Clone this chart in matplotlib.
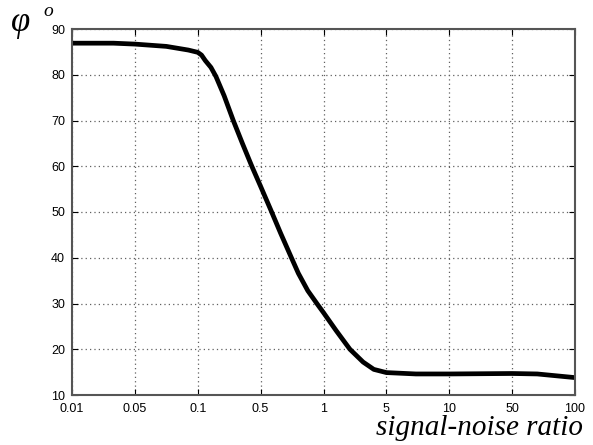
import matplotlib
matplotlib.use("Agg")
import matplotlib.pyplot as plt

# Category tick labels (equally spaced on the axis)
tick_labels = ["0.01", "0.05", "0.1", "0.5", "1", "5", "10", "50", "100"]
y_ticks = [10, 20, 30, 40, 50, 60, 70, 80, 90]

# Curve: position in category units, phi in degrees
curve_pos = [0.0, 0.66, 1.0, 1.5, 1.85, 2.0, 2.06, 2.12, 2.21, 2.29, 2.42,
             2.565, 2.71, 2.86, 3.0, 3.16, 3.32, 3.49, 3.6, 3.75, 3.91, 4.0,
             4.2, 4.42, 4.63, 4.8, 5.0, 5.47, 6.0, 7.0, 7.4, 8.0]
curve_phi = [86.9, 86.9, 86.7, 86.2, 85.4, 84.9, 84.3, 83.1, 81.6, 79.6, 75.4,
             70.0, 65.0, 60.0, 55.6, 50.5, 45.3, 40.0, 36.6, 32.8, 29.7, 28.0,
             24.1, 20.0, 17.2, 15.6, 14.9, 14.6, 14.6, 14.7, 14.6, 13.8]

fig = plt.figure(figsize=(5.93, 4.45), dpi=100)
ax = fig.add_axes([72/593, 1 - 395/445, (575-72)/593, (395-29)/445])

ax.plot(curve_pos, curve_phi, color="black", lw=3.4,
        solid_capstyle="butt", solid_joinstyle="round")

ax.set_xlim(0, 8)
ax.set_ylim(10, 90)
ax.set_xticks(range(len(tick_labels)))
ax.set_xticklabels(tick_labels)
ax.set_yticks(y_ticks)

ax.grid(True, color="#606060", linestyle=(0, (1, 2.5)), linewidth=0.9)
ax.tick_params(direction="in", length=4, width=0.8, top=True, right=True,
               labelsize=9, colors="black")
ax.tick_params(axis="x", pad=6)
ax.tick_params(axis="y", pad=5)
for lab in ax.get_xticklabels() + ax.get_yticklabels():
    lab.set_family("Liberation Sans")
for s in ax.spines.values():
    s.set_color("#555555")
    s.set_linewidth(1.5)

fig.text(11/593, 1 - 31/445, "φ", family="Liberation Serif", style="italic",
         fontsize=25, ha="left", va="baseline")
fig.text(43/593, 1 - 16/445, "o", family="Liberation Serif", style="italic",
         fontsize=14, ha="left", va="baseline")
fig.text(583/593, 1 - 435/445, "signal-noise ratio", family="Liberation Serif",
         style="italic", fontsize=21, ha="right", va="baseline")

fig.savefig("out.png", dpi=100)
